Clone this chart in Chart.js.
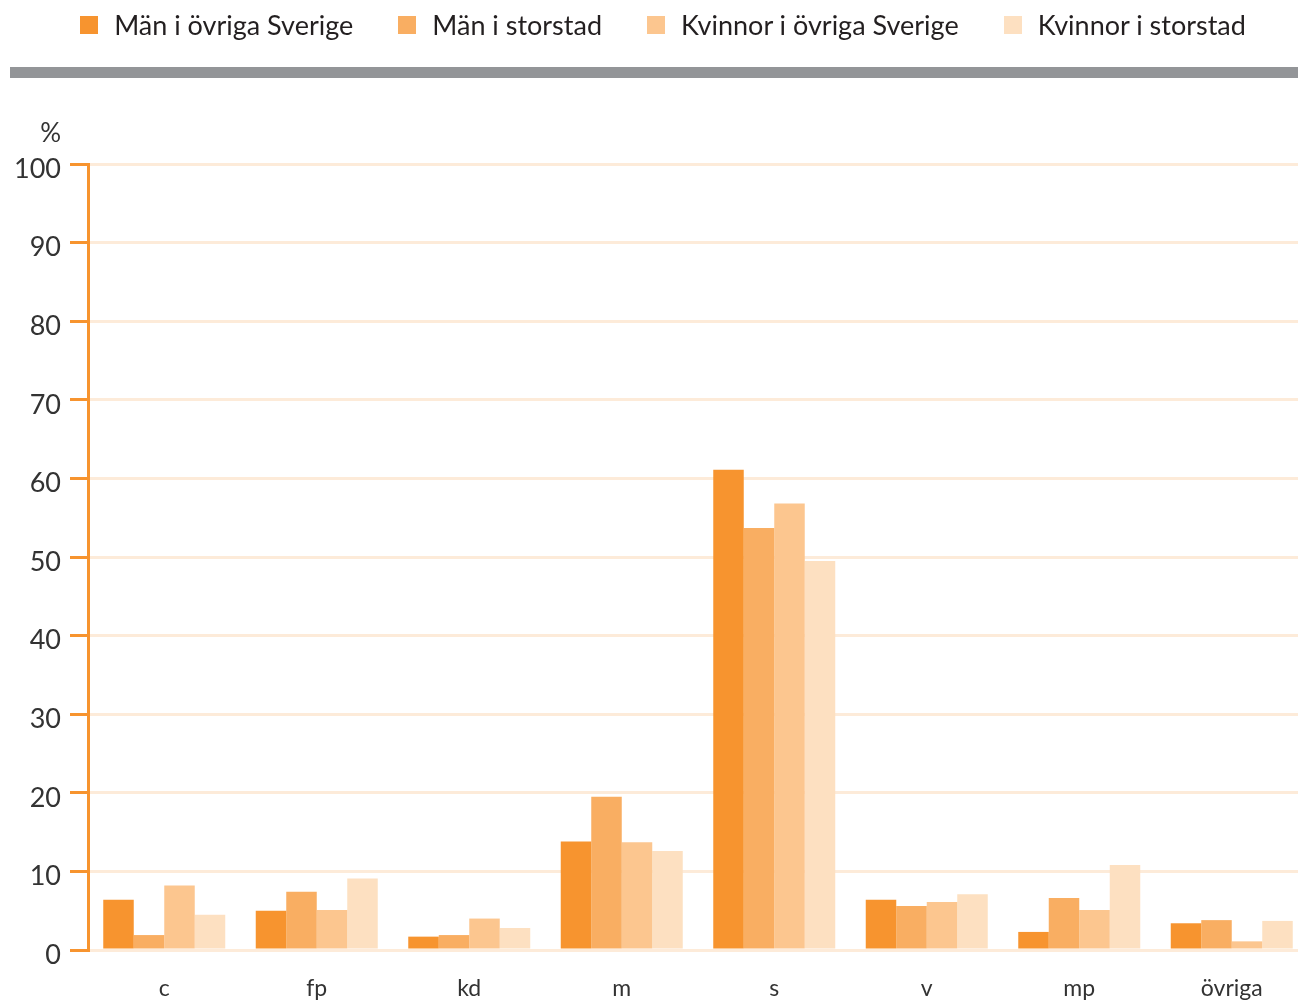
<!DOCTYPE html>
<html>
<head>
<meta charset="utf-8">
<script src="https://cdn.jsdelivr.net/npm/chart.js@4/dist/chart.umd.min.js"></script>
<style>
  html, body { margin: 0; padding: 0; background: #fff; }
  #wrap { position: relative; width: 1298px; height: 1000px; overflow: hidden; }
  #legend { position: absolute; left: 14px; top: 8px; width: 1298px; display: flex; justify-content: center; gap: 45px; font-family: Lato, "Noto Sans", sans-serif; font-size: 27px; color: #231f20; }
  #legend span.item { display: flex; align-items: center; }
  #legend span.box { display: inline-block; width: 18px; height: 18px; margin-right: 16px; }
  #bar { position: absolute; left: 10px; top: 67px; width: 1288px; height: 11px; background: #939598; }
  canvas { position: absolute; left: 0; top: 0; }
</style>
</head>
<body>
<div id="wrap">
  <canvas id="chart" width="1308" height="1000"></canvas>
  <div id="legend"></div>
  <div id="bar"></div>
</div>
<script>
const categories = ['c', 'fp', 'kd', 'm', 's', 'v', 'mp', 'övriga'];
const seriesNames = ['Män i övriga Sverige', 'Män i storstad', 'Kvinnor i övriga Sverige', 'Kvinnor i storstad'];
const manOvriga = [6.4, 5.0, 1.7, 13.8, 61.1, 6.4, 2.3, 3.4];
const manStorstad = [1.9, 7.4, 1.9, 19.5, 53.7, 5.6, 6.6, 3.8];
const kvinnorOvriga = [8.2, 5.1, 4.0, 13.7, 56.8, 6.1, 5.1, 1.1];
const kvinnorStorstad = [4.5, 9.1, 2.8, 12.6, 49.5, 7.1, 10.8, 3.7];
const colors = ['#F7942F', '#F9AE62', '#FCC68F', '#FDE0C1'];

const seriesValues = [manOvriga, manStorstad, kvinnorOvriga, kvinnorStorstad];
const fontFamily = 'Lato, "Noto Sans", sans-serif';

// HTML legend
const legendEl = document.getElementById('legend');
seriesNames.forEach((name, i) => {
  const item = document.createElement('span');
  item.className = 'item';
  const box = document.createElement('span');
  box.className = 'box';
  box.style.background = colors[i];
  item.appendChild(box);
  item.appendChild(document.createTextNode(name));
  legendEl.appendChild(item);
});

// '%' unit label above the y axis
const unitLabel = {
  id: 'unitLabel',
  afterDraw(chart) {
    const { ctx, scales } = chart;
    ctx.save();
    ctx.font = '26px ' + fontFamily;
    ctx.fillStyle = '#333';
    ctx.textAlign = 'right';
    ctx.textBaseline = 'middle';
    ctx.fillText('%', 61, scales.y.top - 30);
    ctx.restore();
  }
};

const ctx = document.getElementById('chart').getContext('2d');
new Chart(ctx, {
  type: 'bar',
  data: {
    labels: categories,
    datasets: seriesNames.map((name, i) => ({
      label: name,
      data: seriesValues[i],
      backgroundColor: colors[i],
      borderWidth: 0,
      categoryPercentage: 0.8,
      barPercentage: 1.0
    }))
  },
  options: {
    responsive: false,
    animation: false,
    layout: { padding: { top: 164, left: 0, right: 0, bottom: 0 } },
    plugins: {
      legend: { display: false },
      tooltip: { enabled: false }
    },
    scales: {
      x: {
        grid: { display: false },
        border: { display: false },
        ticks: { font: { family: fontFamily, size: 23 }, color: '#333', padding: 17 },
        afterFit(scale) { scale.height = 50; }
      },
      y: {
        min: 0,
        max: 100,
        ticks: { stepSize: 10, font: { family: fontFamily, size: 27 }, color: '#333', padding: 9, labelOffset: 5 },
        grid: { color: '#FDEBD9', lineWidth: 3, tickColor: '#F7942F', tickLength: 18, tickWidth: 3 },
        border: { color: '#F7942F', width: 3 },
        afterFit(scale) { scale.width = 88; }
      }
    }
  },
  plugins: [unitLabel]
});
</script>
</body>
</html>
